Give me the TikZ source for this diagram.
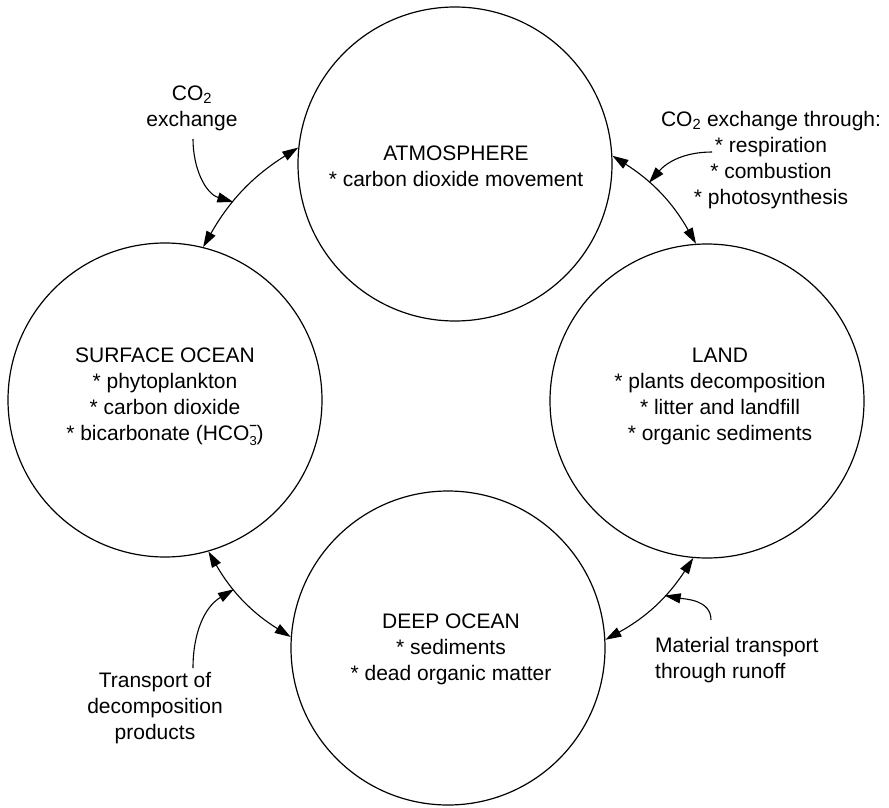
\documentclass[tikz,border=0pt]{standalone}
\usepackage{fontspec}
\setmainfont{Liberation Sans}
\usetikzlibrary{arrows.meta}
\newcommand{\bicarb}{HCO{\fontsize{13}{13}\selectfont\rlap{\raisebox{-5pt}{3}}\raisebox{11pt}{\textbf{–}}})}
\begin{document}
\begin{tikzpicture}[x=1pt,y=1pt,
  pool/.style={circle,draw,line width=1.2pt,minimum size=314pt,inner sep=0pt},
  lbl/.style={align=center,font=\fontsize{21}{26}\selectfont,inner sep=0pt},
  flow/.style={line width=1.1pt,{Triangle[length=16pt,width=10pt]}-{Triangle[length=16pt,width=10pt]}},
  ptr/.style={line width=1.1pt,-{Triangle[length=16pt,width=10pt]}}]
\useasboundingbox (0,0) rectangle (889,-808);
% pools
\node[pool] (A) at (455,-164) {};
\node[pool] (S) at (165,-400) {};
\node[pool] (L) at (707,-401) {};
\node[pool] (D) at (448,-648) {};
% pool texts
\node[lbl] (At) at (456,-166) {ATMOSPHERE\\* carbon dioxide movement};
\node[lbl] (St) at (165,-397) {SURFACE OCEAN\\* phytoplankton\\* carbon dioxide\\* bicarbonate (\bicarb};
\node[lbl] (Lt) at (720,-396) {LAND\\* plants decomposition\\* litter and landfill\\* organic sediments};
\node[lbl] (Dt) at (451,-649) {DEEP OCEAN\\* sediments\\* dead organic matter};
% exchange arrows
\draw[flow] (S.76) to[bend left=14] coordinate[pos=0.38] (m1) (A.174);
\draw[flow] (A.3) to[bend left=14] coordinate[pos=0.36] (m2) (L.94);
\draw[flow] (S.286) to[bend right=14] coordinate[pos=0.37] (m3) (D.176);
\draw[flow] (L.265) to[bend left=14] coordinate[pos=0.38] (m4) (D.3);
% labels
\node[lbl] (t1) at (192,-108) {CO\textsubscript{2}\\exchange};
\node[lbl] (t2) at (771,-160) {CO\textsubscript{2} exchange through:\\* respiration\\* combustion\\* photosynthesis};
\node[lbl] (t3) at (155,-708) {Transport of\\decomposition\\products};
\node[lbl,align=left,anchor=west] (t4) at (655,-660) {Material transport\\through runoff};
% pointers
\coordinate (p1) at (193,-139);
\coordinate (p2) at (712,-152);
\coordinate (p3) at (193,-668);
\coordinate (p4) at (711,-620);
\draw[ptr] (p1) to[out=-90,in=163] (m1);
\draw[ptr] (p2) to[out=180,in=49] (m2);
\draw[ptr] (p3) to[out=90,in=211] (m3);
\draw[ptr] (p4) to[out=90,in=-10] (m4);
\end{tikzpicture}
\end{document}
